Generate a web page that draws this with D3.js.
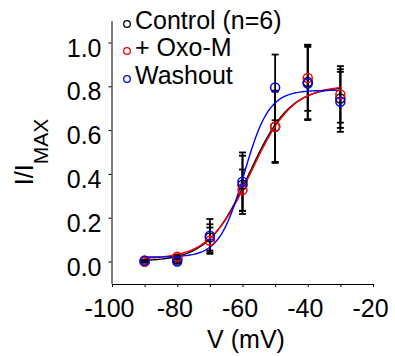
<!DOCTYPE html>
<html>
<head>
<meta charset="utf-8">
<style>
body { margin: 0; background: #fff; }
svg text { font-family: "Liberation Sans", Arial, Helvetica, sans-serif; }
</style>
</head>
<body>
<svg width="395" height="356"></svg>
<script src="https://d3js.org/d3.v7.min.js"></script>
<script>

// values
var voltages = [-90, -80, -70, -60, -50, -40, -30];

var controlMean = [0.0, 0.01, 0.11, 0.35, 0.615, 0.82, 0.744];
var controlErr  = [0.005, 0.01, 0.06, 0.133, 0.165, 0.17, 0.134];
var oxoMean     = [0.0, 0.022, 0.095, 0.326, 0.615, 0.838, 0.763];
var oxoErr      = [0.005, 0.01, 0.06, 0.094, 0.16, 0.15, 0.129];
var washMean    = [0.004, 0.0, 0.118, 0.364, 0.795, 0.813, 0.729];
var washErr     = [0.005, 0.01, 0.076, 0.134, 0.15, 0.167, 0.137];

// Boltzmann fit: bottom, top, V1/2, slope k
var controlFit = [0.0, 0.80, -58.0, 6.3];
var oxoFit     = [0.01, 0.805, -57.4, 6.35];
var washFit    = [0.02, 0.782, -59.5, 3.8];

var seriesNames  = ["Control (n=6)", "+ Oxo-M", "Washout"];
var seriesColors = ["#000000", "#ff0000", "#0000ff"];

var xTicks = [-100, -90, -80, -70, -60, -50, -40, -30, -20];
var xLabels = [-100, -80, -60, -40, -20];
var yTicks = [0, 0.2, 0.4, 0.6, 0.8, 1.0];

var svg = d3.select("svg");

var x = d3.scaleLinear().domain([-100, -20]).range([112, 373]);
var y = d3.scaleLinear().domain([-0.1, 1.1]).range([283.4, 20.6]);

var series = [
  {mean: controlMean, err: controlErr, fit: controlFit},
  {mean: oxoMean, err: oxoErr, fit: oxoFit},
  {mean: washMean, err: washErr, fit: washFit}
];
series.forEach(function(s, i) {
  s.name = seriesNames[i];
  s.color = seriesColors[i];
});

// axes
var xAxis = svg.append("g")
    .attr("transform", "translate(0," + 284 + ")")
    .call(d3.axisBottom(x).tickValues(xTicks).tickSizeInner(3).tickSizeOuter(0)
      .tickFormat(function(d) { return xLabels.indexOf(d) >= 0 ? d : ""; }));
xAxis.selectAll("text")
    .attr("y", 33).attr("dy", null).attr("dx", -3)
    .style("font-size", "25px").attr("fill", "#000");

var yAxis = svg.append("g")
    .attr("transform", "translate(" + 111.5 + ",0)")
    .call(d3.axisLeft(y).tickValues(yTicks).tickSizeInner(3).tickSizeOuter(0)
      .tickFormat(d3.format(".1f")));
yAxis.selectAll("text")
    .attr("x", -10).attr("dy", null).attr("y", 13.5)
    .style("font-size", "25px").attr("fill", "#000");

svg.selectAll(".domain, .tick line").attr("stroke", "#000");

// axis titles
svg.append("text")
    .attr("x", 246).attr("y", 348)
    .attr("text-anchor", "middle")
    .style("font-size", "25px")
    .text("V (mV)");

var yTitle = svg.append("text")
    .attr("transform", "translate(33,152) rotate(-90)")
    .attr("text-anchor", "middle")
    .style("font-size", "25px");
yTitle.append("tspan").text("I/I");
yTitle.append("tspan").attr("dy", 15).style("font-size", "21px").text("MAX");

// error bars
var bars = svg.append("g").attr("stroke", "#000").attr("stroke-width", 1.8);
series.forEach(function(s) {
  voltages.forEach(function(v, j) {
    var lo = y(s.mean[j] - s.err[j]), hi = y(s.mean[j] + s.err[j]);
    var cx = x(v);
    bars.append("line").attr("x1", cx).attr("x2", cx).attr("y1", lo).attr("y2", hi);
    bars.append("line").attr("x1", cx - 3.5).attr("x2", cx + 3.5).attr("y1", lo).attr("y2", lo);
    bars.append("line").attr("x1", cx - 3.5).attr("x2", cx + 3.5).attr("y1", hi).attr("y2", hi);
  });
});

// fitted curves
function boltz(p, v) {
  return p[0] + (p[1] - p[0]) / (1 + Math.exp((p[2] - v) / p[3]));
}
var line = d3.line()
    .x(function(d) { return x(d[0]); })
    .y(function(d) { return y(d[1]); });

series.forEach(function(s) {
  var pts = d3.range(-90, -29.9, 0.5).map(function(v) { return [v, boltz(s.fit, v)]; });
  svg.append("path")
      .datum(pts)
      .attr("fill", "none")
      .attr("stroke", s.color)
      .attr("stroke-width", 1.4)
      .attr("d", line);
});

// data points
series.forEach(function(s) {
  svg.append("g").selectAll("circle")
    .data(voltages)
    .enter().append("circle")
      .attr("cx", function(d) { return x(d); })
      .attr("cy", function(d, j) { return y(s.mean[j]); })
      .attr("r", 4.5)
      .attr("fill", "none")
      .attr("stroke", s.color)
      .attr("stroke-width", 1.5);
});

// legend
var legendY = [24, 51, 79];
var legend = svg.append("g");
series.forEach(function(s, i) {
  legend.append("circle")
      .attr("cx", 127).attr("cy", legendY[i])
      .attr("r", 3.3)
      .attr("fill", "none")
      .attr("stroke", s.color)
      .attr("stroke-width", 1.3);
  legend.append("text")
      .attr("x", 135).attr("y", legendY[i] + 5)
      .style("font-size", "25px")
      .text(s.name);
});

</script>
</body>
</html>
